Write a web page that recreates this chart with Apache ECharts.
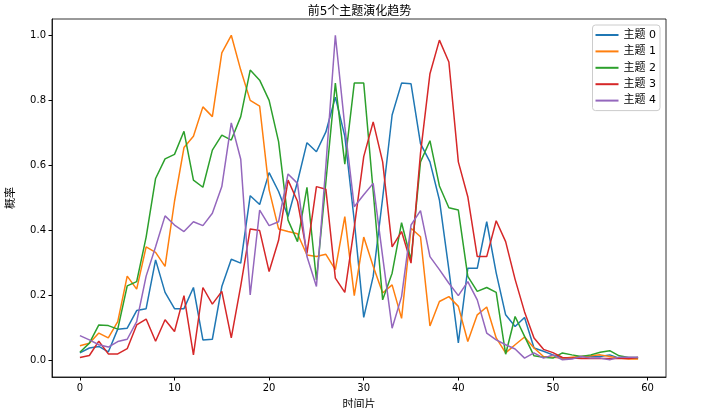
<!DOCTYPE html>
<html>
<head>
<meta charset="utf-8">
<script src="https://cdn.jsdelivr.net/npm/echarts@6/dist/echarts.min.js"></script>
<style>
  html, body { margin: 0; padding: 0; background: #fff; }
  #chart { width: 719px; height: 408px; }
</style>
</head>
<body>
<div id="chart"></div>
<script>
// 数据：60 个时间切片，前 5 个主题
var titleText = "前5个主题演化趋势";
var xName = "时间片";
var yName = "概率";
var seriesNames = ["主题 0", "主题 1", "主题 2", "主题 3", "主题 4"];
var colors = ["#1f77b4", "#ff7f0e", "#2ca02c", "#d62728", "#9467bd"];
var xTicks = [0, 10, 20, 30, 40, 50, 60];
var yTicks = [0, 0.2, 0.4, 0.6, 0.8, 1.0];

var topic0 = [0.024, 0.039, 0.044, 0.027, 0.097, 0.10, 0.154, 0.16, 0.31, 0.21,
  0.16, 0.16, 0.225, 0.064, 0.066, 0.228, 0.312, 0.30, 0.507, 0.48,
  0.578, 0.52, 0.443, 0.55, 0.67, 0.642, 0.703, 0.81, 0.69, 0.43,
  0.133, 0.259, 0.50, 0.755, 0.853, 0.851, 0.667, 0.611, 0.494, 0.28,
  0.055, 0.284, 0.284, 0.427, 0.27, 0.141, 0.105, 0.133, 0.039, 0.029,
  0.018, 0.008, 0.008, 0.013, 0.013, 0.013, 0.018, 0.008, 0.008, 0.008];
var topic1 = [0.046, 0.054, 0.085, 0.07, 0.12, 0.26, 0.22, 0.35, 0.333, 0.29,
  0.49, 0.655, 0.69, 0.78, 0.75, 0.946, 1.0, 0.893, 0.80, 0.782,
  0.525, 0.405, 0.397, 0.39, 0.325, 0.32, 0.327, 0.28, 0.443, 0.20,
  0.38, 0.29, 0.208, 0.233, 0.13, 0.407, 0.381, 0.107, 0.182, 0.197,
  0.167, 0.059, 0.141, 0.165, 0.07, 0.024, 0.049, 0.073, 0.039, 0.013,
  0.011, 0.008, 0.011, 0.013, 0.015, 0.018, 0.013, 0.008, 0.005, 0.005];
var topic2 = [0.026, 0.054, 0.11, 0.108, 0.097, 0.23, 0.243, 0.38, 0.56, 0.62,
  0.634, 0.705, 0.555, 0.533, 0.647, 0.693, 0.678, 0.75, 0.893, 0.862,
  0.80, 0.673, 0.432, 0.366, 0.533, 0.248, 0.55, 0.853, 0.604, 0.853,
  0.853, 0.52, 0.187, 0.269, 0.424, 0.31, 0.611, 0.676, 0.537, 0.47,
  0.463, 0.259, 0.213, 0.225, 0.21, 0.02, 0.136, 0.075, 0.015, 0.011,
  0.008, 0.024, 0.018, 0.013, 0.018, 0.026, 0.031, 0.015, 0.01, 0.01];
var topic3 = [0.01, 0.016, 0.06, 0.021, 0.021, 0.037, 0.11, 0.128, 0.06, 0.126,
  0.09, 0.20, 0.018, 0.225, 0.174, 0.213, 0.07, 0.23, 0.405, 0.40,
  0.274, 0.37, 0.555, 0.49, 0.33, 0.535, 0.527, 0.254, 0.21, 0.41,
  0.627, 0.734, 0.611, 0.35, 0.397, 0.30, 0.637, 0.882, 0.985, 0.918,
  0.611, 0.504, 0.32, 0.32, 0.43, 0.366, 0.25, 0.15, 0.07, 0.035,
  0.025, 0.01, 0.008, 0.007, 0.007, 0.007, 0.007, 0.007, 0.007, 0.01];
var topic4 = [0.077, 0.064, 0.049, 0.042, 0.059, 0.066, 0.12, 0.26, 0.35, 0.445,
  0.417, 0.397, 0.427, 0.415, 0.453, 0.535, 0.731, 0.619, 0.202, 0.463,
  0.415, 0.427, 0.574, 0.545, 0.32, 0.228, 0.6, 1.0, 0.72, 0.473,
  0.51, 0.545, 0.32, 0.10, 0.197, 0.417, 0.461, 0.32, 0.28, 0.238,
  0.20, 0.243, 0.187, 0.085, 0.064, 0.049, 0.036, 0.008, 0.024, 0.008,
  0.018, 0.003, 0.005, 0.013, 0.008, 0.008, 0.003, 0.011, 0.011, 0.011];

var topics = [topic0, topic1, topic2, topic3, topic4];
var font = "DejaVu Sans, Noto Sans CJK SC";

var chart = echarts.init(document.getElementById("chart"));

var series = topics.map(function(arr, k) {
  return {
    name: seriesNames[k],
    type: "line",
    symbol: "none",
    data: arr.map(function(v, i) { return [i, v]; }),
    lineStyle: { color: colors[k], width: 1.5 },
    itemStyle: { color: colors[k] }
  };
});

var option = {
  animation: false,
  backgroundColor: "#fff",
  title: {
    text: titleText,
    left: "center",
    top: 1,
    textStyle: { fontFamily: font, fontSize: 12, fontWeight: "normal", color: "#000" }
  },
  legend: {
    orient: "vertical",
    right: 59,
    top: 25,
    icon: "rect",
    itemWidth: 23,
    itemHeight: 2,
    itemGap: 4.4,
    padding: [4, 4, 4, 3],
    borderColor: "#ccc",
    borderWidth: 1,
    borderRadius: 3,
    backgroundColor: "rgba(255,255,255,0.8)",
    textStyle: { fontFamily: font, fontSize: 11, lineHeight: 12, color: "#000" },
    data: seriesNames
  },
  grid: {
    left: 52, right: 53, top: 19, bottom: 31,
    outerBoundsMode: "none",
    show: true, borderColor: "#000", borderWidth: 0.8
  },
  xAxis: {
    type: "value",
    min: -2.95,
    max: 61.95,
    name: xName,
    nameLocation: "middle",
    nameGap: 23,
    nameTextStyle: { fontFamily: font, fontSize: 11, color: "#000" },
    axisLine: { onZero: false, lineStyle: { color: "#000", width: 0.8 } },
    axisTick: { show: true, length: 3.5, customValues: xTicks, lineStyle: { color: "#000" } },
    axisLabel: { customValues: xTicks, margin: 6, fontFamily: font, fontSize: 10, color: "#000" },
    splitLine: { show: false }
  },
  yAxis: {
    type: "value",
    min: -0.05,
    max: 1.05,
    name: yName,
    nameLocation: "middle",
    nameRotate: 90,
    nameGap: 35,
    nameTextStyle: { fontFamily: font, fontSize: 11, color: "#000" },
    axisLine: { show: true, onZero: false, lineStyle: { color: "#000", width: 0.8 } },
    axisTick: { show: true, length: 3.5, customValues: yTicks, lineStyle: { color: "#000" } },
    axisLabel: {
      customValues: yTicks, margin: 6, fontFamily: font, fontSize: 10, color: "#000",
      formatter: function(v) { return v.toFixed(1); }
    },
    splitLine: { show: false }
  },
  series: series
};

chart.setOption(option);
</script>
</body>
</html>
